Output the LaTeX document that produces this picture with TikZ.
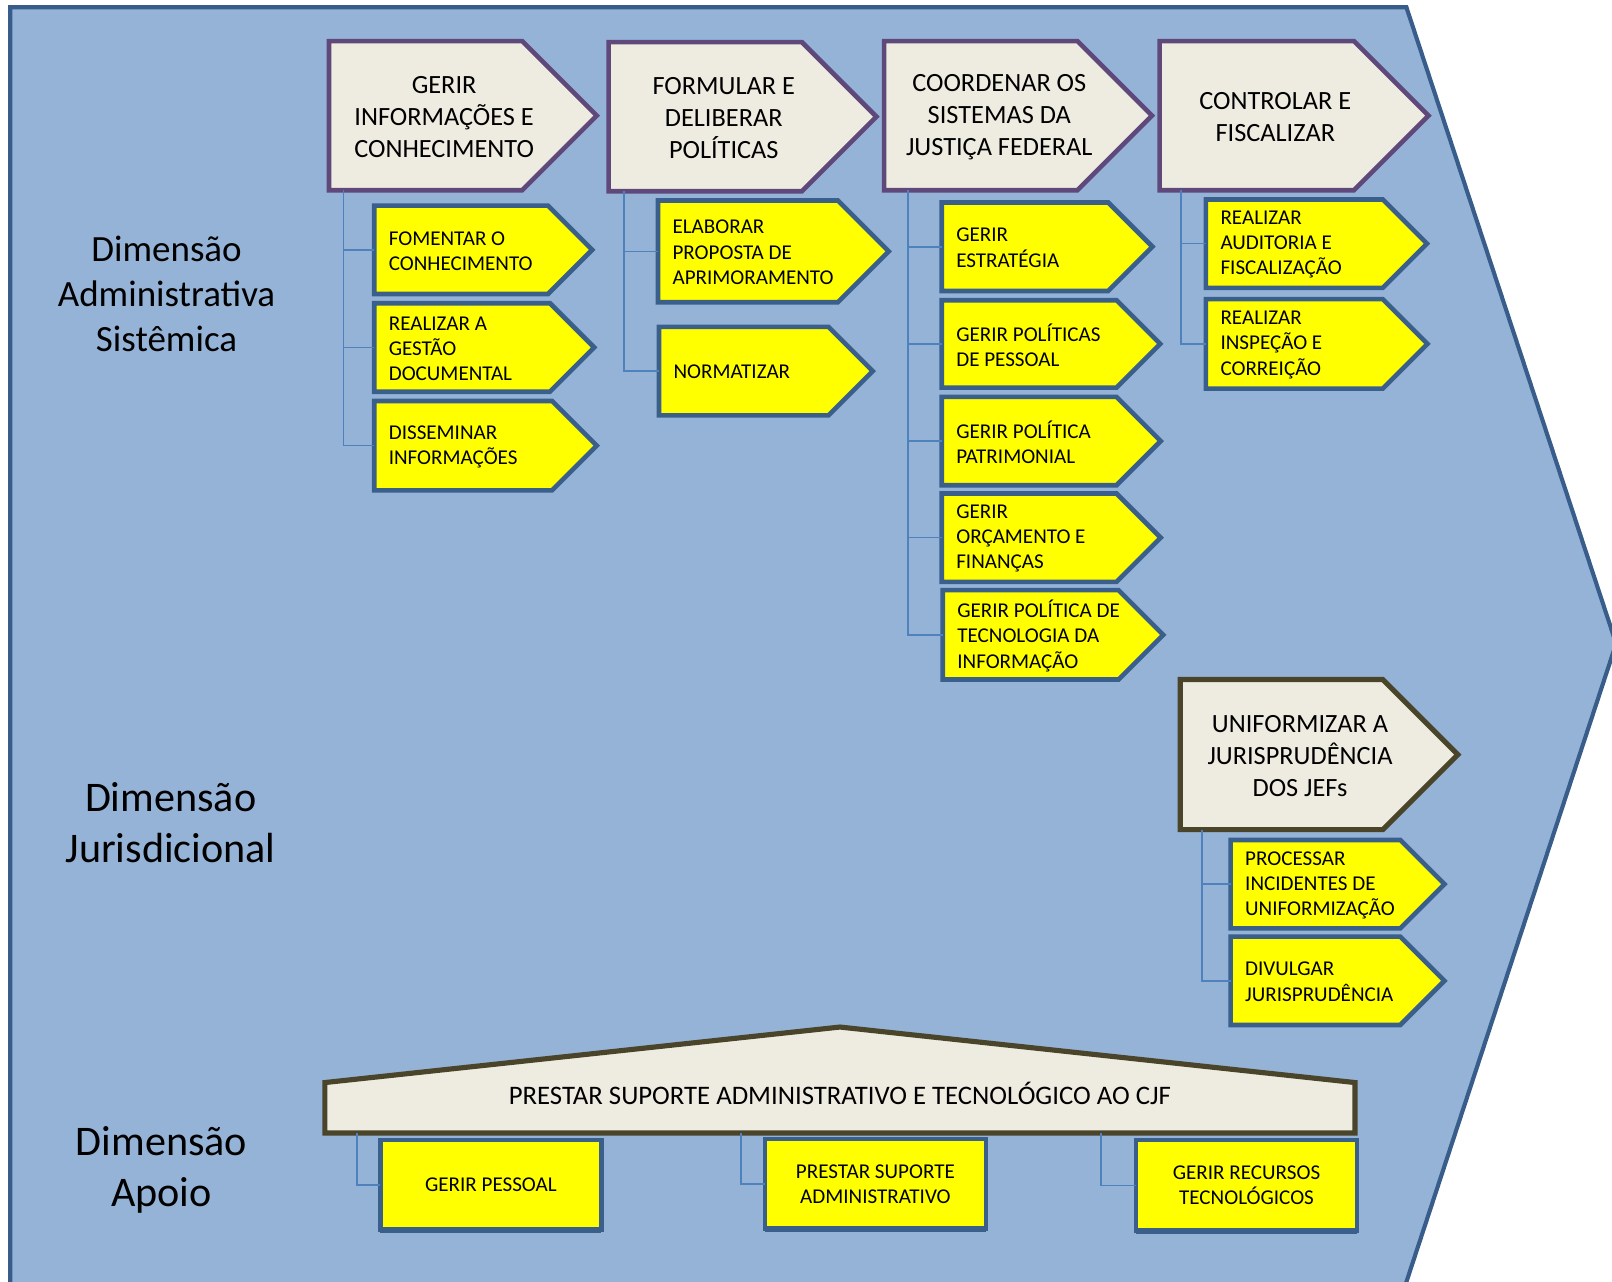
\documentclass[tikz,border=0pt]{standalone}
\usepackage{fontspec}
\setmainfont{Carlito}
\usetikzlibrary{calc}
\definecolor{bgfill}{HTML}{95B3D7}
\definecolor{bgline}{HTML}{385D8A}
\definecolor{greyfill}{HTML}{EEECE1}
\definecolor{purp}{HTML}{5F497A}
\definecolor{olive}{HTML}{4A452A}
\definecolor{yel}{HTML}{FFFF00}
\definecolor{ybord}{HTML}{3A5F8B}
\definecolor{conncol}{HTML}{4F81BD}
\tikzset{
  shell/.style={inner sep=0pt, outer sep=0pt, anchor=north west},
  ychev/.style={fill=yel, draw=ybord, line width=4.5pt},
  gchev/.style={fill=greyfill, draw=purp, line width=4.5pt},
  jchev/.style={fill=greyfill, draw=olive, line width=5pt},
  ytext/.style={anchor=west, align=left, inner sep=0pt, font=\fontsize{20.5}{24.5}\selectfont},
  gtext/.style={anchor=center, align=center, inner sep=0pt, font=\fontsize{25.6}{31}\selectfont},
  yrect/.style={shell, fill=yel, draw=ybord, line width=4.5pt, align=center, font=\fontsize{20.5}{24.5}\selectfont},
  conn/.style={draw=conncol, line width=1.5pt},
  dimlab/.style={align=center, inner sep=0pt},
}
\newcommand\ychevbox[6]{%
  \pgfmathsetmacro\cbw{#4-#2}%
  \pgfmathsetmacro\cbh{#5-#3}%
  \pgfmathsetmacro\cbt{(#5-#3)/2}%
  \node[shell, minimum width=\cbw pt, minimum height=\cbh pt] (#1) at (#2,#3) {};
  \draw[ychev] (#1.north west) -- (#1.north east) -- ([xshift=\cbt pt]#1.east) -- (#1.south east) -- (#1.south west) -- cycle;
  \node[ytext] (#1t) at ([xshift=14pt, yshift=-1pt]#1.west) {#6};
}
\newcommand\gchevbox[7]{%
  \pgfmathsetmacro\cbw{#5-#3}%
  \pgfmathsetmacro\cbh{#6-#4}%
  \pgfmathsetmacro\cbt{(#6-#4)/2}%
  \node[shell, minimum width=\cbw pt, minimum height=\cbh pt] (#1) at (#3,#4) {};
  \draw[#2] (#1.north west) -- (#1.north east) -- ([xshift=\cbt pt]#1.east) -- (#1.south east) -- (#1.south west) -- cycle;
  \node[gtext] (#1t) at ([xshift=18pt, yshift=-1.5pt]#1.center) {#7};
}
\begin{document}
\begin{tikzpicture}[x=1pt, y=-1pt]
\useasboundingbox (0,0) rectangle (1568,1247);
% background chevron
\draw[fill=bgfill, draw=bgline, line width=4pt] (10,7) -- (1368,7) -- (1572,626) -- (1366,1253) -- (10,1253) -- cycle;

% dimension labels
\node[dimlab, font=\fontsize{36}{44}\selectfont] (dadm) at (162,286) {Dimensão\\Administrativa\\Sistêmica};
\node[dimlab, font=\fontsize{41}{50}\selectfont] (djur) at (166,800) {Dimensão\\Jurisdicional};
\node[dimlab, font=\fontsize{41}{50}\selectfont] (dapo) at (157,1138) {Dimensão\\Apoio};

% top macro-processes
\gchevbox{g1}{gchev}{320}{40}{508}{185}{GERIR\\INFORMAÇÕES E\\CONHECIMENTO}
\gchevbox{g2}{gchev}{592}{41}{780}{186}{FORMULAR E\\DELIBERAR\\POLÍTICAS}
\gchevbox{g3}{gchev}{860}{40}{1048}{185}{COORDENAR OS\\SISTEMAS DA\\JUSTIÇA FEDERAL}
\gchevbox{g4}{gchev}{1128}{40}{1317}{185}{CONTROLAR E\\FISCALIZAR}
\gchevbox{gj}{jchev}{1148}{661}{1345}{807}{UNIFORMIZAR A\\JURISPRUDÊNCIA\\DOS JEFs}

% yellow sub-processes
\ychevbox{y1}{364}{200}{533}{286}{FOMENTAR O\\CONHECIMENTO}
\ychevbox{y2}{364}{295}{535}{381}{REALIZAR A\\GESTÃO\\DOCUMENTAL}
\ychevbox{y3}{364}{390}{537}{477}{DISSEMINAR\\INFORMAÇÕES}
\ychevbox{y4}{640}{195}{815}{294}{ELABORAR\\PROPOSTA DE\\APRIMORAMENTO}
\ychevbox{y5}{641}{318}{806}{404}{NORMATIZAR}
\ychevbox{y6}{916}{197}{1078}{283}{GERIR\\ESTRATÉGIA}
\ychevbox{y7}{916}{292}{1086}{377}{GERIR POLÍTICAS\\DE PESSOAL}
\ychevbox{y8}{916}{386}{1086}{472}{GERIR POLÍTICA\\PATRIMONIAL}
\ychevbox{y9}{916}{480}{1086}{566}{GERIR\\ORÇAMENTO E\\FINANÇAS}
\ychevbox{y10}{917}{574}{1088}{661}{GERIR POLÍTICA DE\\TECNOLOGIA DA\\INFORMAÇÃO}
\ychevbox{y11}{1173}{194}{1345}{280}{REALIZAR\\AUDITORIA E\\FISCALIZAÇÃO}
\ychevbox{y12}{1173}{291}{1345}{378}{REALIZAR\\INSPEÇÃO E\\CORREIÇÃO}
\ychevbox{y13}{1197}{817}{1362}{903}{PROCESSAR\\INCIDENTES DE\\UNIFORMIZAÇÃO}
\ychevbox{y14}{1197}{911}{1362}{997}{DIVULGAR\\JURISPRUDÊNCIA}

% support house
\node[shell, minimum width=1002pt, minimum height=49pt] (house) at (316,1053) {};
\draw[fill=greyfill, draw=olive, line width=5pt] (house.south west) -- (house.north west) -- ([yshift=54pt]house.north) -- (house.north east) -- (house.south east) -- cycle;
\node[gtext, font=\fontsize{26}{30}\selectfont] (houset) at ([yshift=14pt]house.center) {PRESTAR SUPORTE ADMINISTRATIVO E TECNOLÓGICO AO CJF};

\node[yrect, minimum width=215pt, minimum height=87pt] (b1) at (370,1109) {GERIR PESSOAL};
\node[yrect, minimum width=215pt, minimum height=87pt] (b2) at (744,1108) {PRESTAR SUPORTE\\ADMINISTRATIVO};
\node[yrect, minimum width=215pt, minimum height=88pt] (b3) at (1105,1109) {GERIR RECURSOS\\TECNOLÓGICOS};
\foreach \b in {b1,b2,b3} \draw[draw=ybord, line width=2.5pt] ([yshift=-2.5pt]\b.south west) -- ([yshift=-2.5pt]\b.south east);

% connectors
\foreach \t in {y1,y2,y3} \draw[conn] ($(g1.south west)+(14,0)$) |- (\t.west);
\foreach \t in {y4,y5} \draw[conn] ($(g2.south west)+(15,0)$) |- (\t.west);
\foreach \t in {y6,y7,y8,y9,y10} \draw[conn] ($(g3.south west)+(23,0)$) |- (\t.west);
\foreach \t in {y11,y12} \draw[conn] ($(g4.south west)+(21,0)$) |- (\t.west);
\foreach \t in {y13,y14} \draw[conn] ($(gj.south west)+(21,0)$) |- (\t.west);
\draw[conn] ($(house.south west)+(31,0)$) |- (b1.west);
\draw[conn] ($(house.south west)+(405,0)$) |- (b2.west);
\draw[conn] ($(house.south west)+(755,0)$) |- (b3.west);
\end{tikzpicture}
\end{document}
